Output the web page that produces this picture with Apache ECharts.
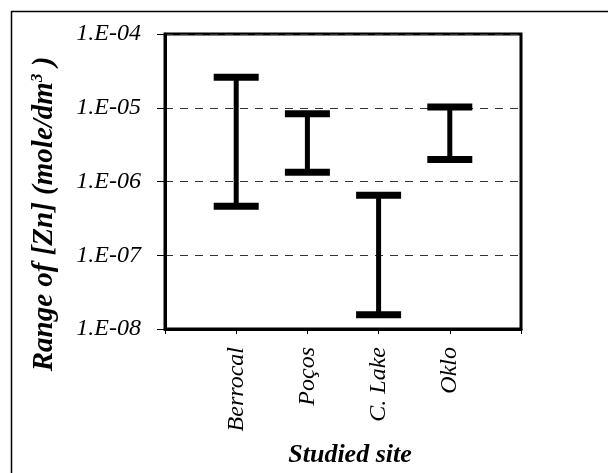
<!DOCTYPE html>
<html>
<head>
<meta charset="utf-8">
<script src="https://cdn.jsdelivr.net/npm/echarts@6/dist/echarts.min.js"></script>
<style>html,body{margin:0;padding:0;background:#fff;overflow:hidden}#c{width:608px;height:473px}</style>
</head>
<body>
<div id="c"></div>
<script>
const sites = ['Berrocal', 'Poços', 'C. Lake', 'Oklo'];
const sitePos = [1, 2, 3, 4];
const lowVals = [4.6e-7, 1.33e-6, 1.56e-8, 1.98e-6];
const highVals = [2.6e-5, 8.3e-6, 6.5e-7, 1.02e-5];

const FONT = 'Liberation Serif';
const data = sites.map((s, i) => [sitePos[i], lowVals[i], highVals[i]]);

const chart = echarts.init(document.getElementById('c'));
chart.setOption({
  animation: false,
  backgroundColor: '#fff',
  grid: { left: 165, top: 34, right: 87, bottom: 144, show: true, borderColor: '#000', borderWidth: 3, backgroundColor: 'transparent' },
  xAxis: {
    type: 'value', min: 0, max: 5, interval: 1,
    axisLine: { show: true, lineStyle: { color: '#000', width: 3 } },
    axisTick: { show: true, length: 5, lineStyle: { color: '#000', width: 1 } },
    splitLine: { show: false },
    axisLabel: {
      rotate: 90, margin: 18,
      fontFamily: FONT, fontStyle: 'italic', fontSize: 24, color: '#000',
      formatter: v => { const i = sitePos.indexOf(v); return i >= 0 ? sites[i] : ''; }
    }
  },
  yAxis: {
    type: 'log', logBase: 10, min: 1e-8, max: 1e-4,
    axisLine: { show: true, lineStyle: { color: '#000', width: 3 } },
    axisTick: { show: true, length: 8, lineStyle: { color: '#000', width: 1 } },
    splitLine: { show: true, lineStyle: { color: '#333', width: 1, type: [8, 7] } },
    axisLabel: {
      margin: 24,
      fontFamily: FONT, fontStyle: 'italic', fontSize: 24, color: '#000',
      formatter: v => { const e = -Math.round(Math.log10(v)); return '1.E-' + (e < 10 ? '0' : '') + e; }
    }
  },
  series: [{
    type: 'custom',
    data: data,
    encode: { x: 0, y: [1, 2] },
    renderItem: (params, api) => {
      const x = api.value(0);
      const pLo = api.coord([x, api.value(1)]);
      const pHi = api.coord([x, api.value(2)]);
      const cw = 45, ch = 7;
      return {
        type: 'group',
        children: [
          { type: 'line', shape: { x1: pHi[0], y1: pHi[1], x2: pLo[0], y2: pLo[1] }, style: { stroke: '#000', lineWidth: 5 } },
          { type: 'rect', shape: { x: pHi[0] - cw / 2, y: pHi[1] - ch / 2, width: cw, height: ch }, style: { fill: '#000' } },
          { type: 'rect', shape: { x: pLo[0] - cw / 2, y: pLo[1] - ch / 2, width: cw, height: ch }, style: { fill: '#000' } }
        ]
      };
    }
  }],
  graphic: [
    { type: 'polyline', shape: { points: [[11.5, 480], [11.5, 11.5], [620, 11.5]] }, style: { fill: null, stroke: '#000', lineWidth: 1.5 }, silent: true },
    {
      type: 'text', x: 45, y: 214, rotation: Math.PI / 2,
      style: {
        text: '{a|Range of [Zn] (mole/dm}{s|3}{a| )}',
        align: 'center', verticalAlign: 'middle',
        rich: {
          a: { fontFamily: FONT, fontStyle: 'italic', fontWeight: 'bold', fontSize: 29, fill: '#000' },
          s: { fontFamily: FONT, fontStyle: 'italic', fontWeight: 'bold', fontSize: 17, fill: '#000', verticalAlign: 'top', padding: [0, 0, 14, 0] }
        }
      }
    },
    {
      type: 'text', x: 350, y: 455,
      style: { text: 'Studied site', align: 'center', verticalAlign: 'middle', fontFamily: FONT, fontStyle: 'italic', fontWeight: 'bold', fontSize: 26, fill: '#000' }
    }
  ]
});
</script>
</body>
</html>
